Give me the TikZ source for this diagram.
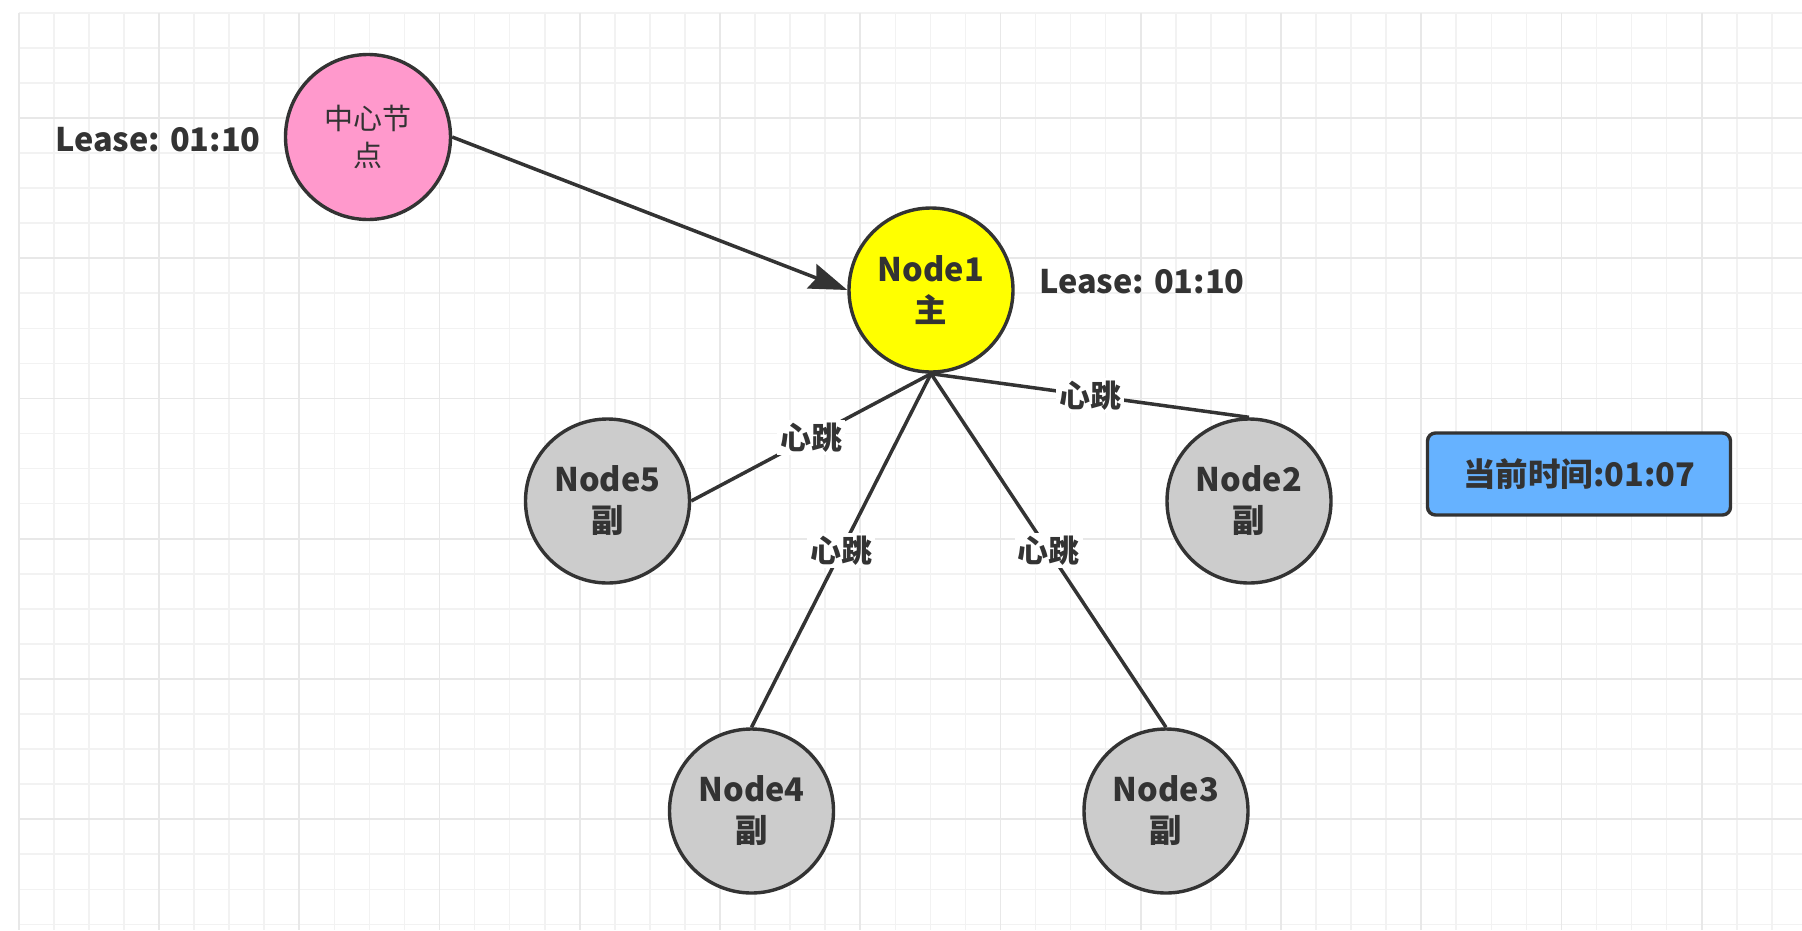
\documentclass[tikz,border=0pt]{standalone}
\usepackage{fontspec}
\setmainfont{Noto Sans CJK SC}
\usetikzlibrary{arrows.meta}
\definecolor{txt}{HTML}{333333}
\definecolor{ln}{HTML}{333333}
\definecolor{gminor}{HTML}{F2F2F2}
\definecolor{gmajor}{HTML}{E8E8E8}
\definecolor{pinkfill}{HTML}{FF99CC}
\definecolor{yellowfill}{HTML}{FFFF00}
\definecolor{grayfill}{HTML}{CCCCCC}
\definecolor{bluefill}{HTML}{66B2FF}
\tikzset{
  ndcircle/.style={circle, draw=ln, line width=3.4pt, minimum size=164pt, inner sep=0pt, align=center, text=txt, font=\fontsize{32.5}{41}\selectfont\bfseries},
  lease/.style={text=txt, font=\fontsize{32.5}{41}\selectfont\bfseries, inner sep=0pt},
  conn/.style={draw=ln, line width=3.5pt},
  hb/.style={fill=white, text=txt, inner sep=3pt, font=\fontsize{31}{38}\selectfont\bfseries},
}
\begin{document}
\begin{tikzpicture}[x=1pt,y=-1pt]
\useasboundingbox (0,0) rectangle (1802,930);
\fill[white] (0,0) rectangle (1802,930);
% grid
\foreach \k in {0,...,50} {
  \draw[gminor, line width=1.6pt] ({18.8+35.06*\k},12.8) -- ({18.8+35.06*\k},930);
}
\foreach \k in {0,...,26} {
  \draw[gminor, line width=1.6pt] (18.8,{12.8+35.06*\k}) -- (1802,{12.8+35.06*\k});
}
\foreach \k in {0,4,...,48} {
  \draw[gmajor, line width=1.8pt] ({18.8+35.06*\k},12.8) -- ({18.8+35.06*\k},930);
}
\foreach \k in {3,7,...,23} {
  \draw[gmajor, line width=1.8pt] (18.8,{12.8+35.06*\k}) -- (1802,{12.8+35.06*\k});
}
% nodes
\node[ndcircle, fill=pinkfill, minimum size=165pt, font=\fontsize{29}{37}\selectfont] (center) at (368,137) {中心节\\点};
\node[ndcircle, fill=yellowfill] (n1) at (931,290) {Node1\\主};
\node[ndcircle, fill=grayfill] (n5) at (607.5,501) {Node5\\副};
\node[ndcircle, fill=grayfill] (n2) at (1249,501) {Node2\\副};
\node[ndcircle, fill=grayfill] (n4) at (751.5,811) {Node4\\副};
\node[ndcircle, fill=grayfill] (n3) at (1166,811) {Node3\\副};
\node[lease] (l1) at (158,140) {Lease: 01:10};
\node[lease] (l2) at (1142,282) {Lease: 01:10};
\node[draw=ln, line width=3.4pt, fill=bluefill, rounded corners=8pt, minimum width=303pt, minimum height=82pt, text=txt, font=\fontsize{32.5}{41}\selectfont\bfseries] (now) at (1579,474) {当前时间:01:07};
% connectors
\draw[conn, -{Stealth[length=38pt, width=26pt, inset=5pt]}] (center.east) -- (n1.west);
\draw[conn] (n1.south) -- node[hb] {心跳} (n5.east);
\draw[conn] (n1.south) -- node[hb] {心跳} (n4.north);
\draw[conn] (n1.south) -- node[hb] {心跳} (n3.north);
\draw[conn] (n1.south) -- node[hb] {心跳} (n2.north);
\end{tikzpicture}
\end{document}
